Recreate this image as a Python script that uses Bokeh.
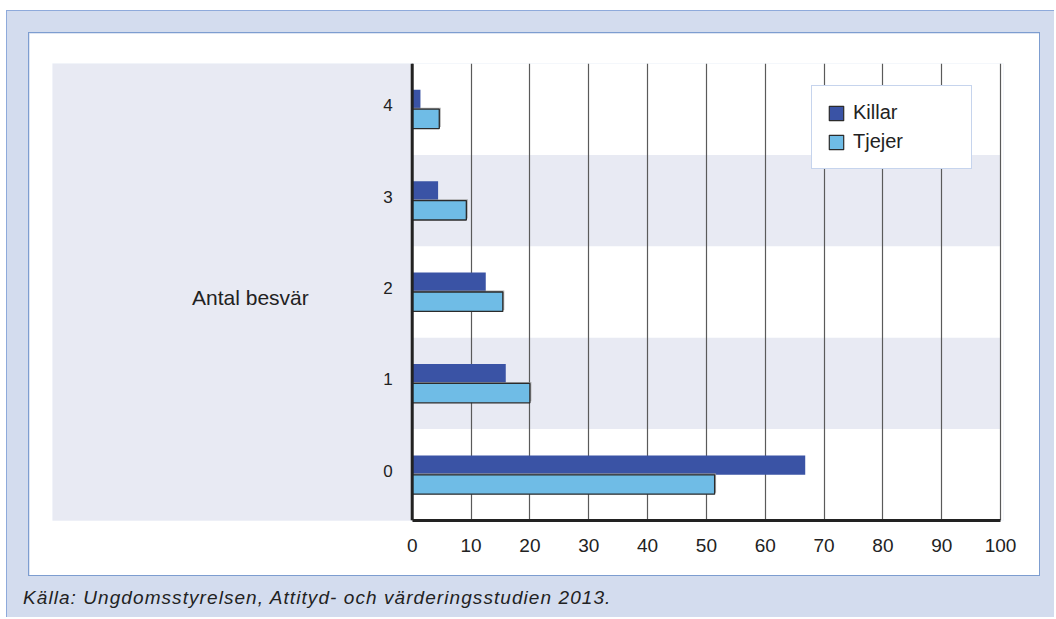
from bokeh.plotting import figure
from bokeh.models import Range1d, FixedTicker, Span, Legend, LegendItem, Div, Label, ColumnDataSource
from bokeh.layouts import column
from bokeh.transform import dodge
from bokeh.core.properties import value
from bokeh.embed import file_html
from bokeh.resources import INLINE

# ---- data ----
categories = [0, 1, 2, 3, 4]
category_labels = ["0", "1", "2", "3", "4"]
killar = [66.8, 15.9, 12.5, 4.4, 1.4]
tjejer = [51.4, 20.0, 15.4, 9.2, 4.6]
x_ticks = [0, 10, 20, 30, 40, 50, 60, 70, 80, 90, 100]
series_names = ["Killar", "Tjejer"]
axis_title = "Antal besvär"
source_note = "Källa: Ungdomsstyrelsen, Attityd- och värderingsstudien 2013."

KILLAR_C = "#3a53a5"
TJEJER_C = "#6fbce6"
BAND_C = "#e8eaf3"
OUTER_C = "#d3dcee"
TEXT_C = "#222222"
FONT = "Liberation Sans"

src = ColumnDataSource(dict(y=categories, lab=category_labels, killar=killar, tjejer=tjejer))

p = figure(width=1010, height=542, output_backend="svg", toolbar_location=None,
           x_range=Range1d(-61.14, 100.5), y_range=Range1d(-0.5, 4.5),
           y_axis_location=None, min_border_left=23, min_border_top=30,
           min_border_right=36, min_border_bottom=55,
           border_fill_color="white", background_fill_color="white",
           margin=(22, 15, 0, 22))
p.outline_line_color = None
p.styles = {"outline": "1px solid #7d9dd0"}

# background bands (behind the grid)
band_src = ColumnDataSource(dict(left=[-61.14, 0, 0], right=[0, 100, 100],
                                 bottom=[-0.52, 0.5, 2.5], top=[4.5, 1.5, 3.5]))
p.quad(left="left", right="right", bottom="bottom", top="top", source=band_src,
       fill_color=BAND_C, line_color=None, level="image")

# grid
p.xgrid.ticker = FixedTicker(ticks=x_ticks)
p.xgrid.grid_line_color = "#5a5a5a"
p.xgrid.grid_line_width = 1.2
p.ygrid.grid_line_color = None

# bars
h = 0.212
rk = p.hbar(y=dodge("y", 0.106), right="killar", left=0, height=h, source=src,
            fill_color=KILLAR_C, line_color=None)
# soft shadow behind Tjejer bars
p.hbar(y=dodge("y", -0.106 + 0.016), right=dodge("tjejer", 0.25), left=0, height=h, source=src,
       fill_color="#9a9a9a", fill_alpha=0.8, line_color=None)
rt = p.hbar(y=dodge("y", -0.106), right="tjejer", left=0, height=h, source=src,
            fill_color=TJEJER_C, line_color="#2b2b2b", line_width=1.3)

# legend-only swatches (outlined, hidden renderers)
lk = p.hbar(y="y", right="killar", height=h, source=src, fill_color=KILLAR_C,
            line_color="#2b2b2b", line_width=1.2, visible=False)
lt = p.hbar(y="y", right="tjejer", height=h, source=src, fill_color=TJEJER_C,
            line_color="#2b2b2b", line_width=1.2, visible=False)

# y axis line
p.add_layout(Span(location=0, dimension="height", line_color="#222222", line_width=3))

# x axis
xa = p.xaxis[0]
xa.ticker = FixedTicker(ticks=x_ticks)
xa.bounds = (0, 100)
xa.axis_line_width = 3
xa.axis_line_color = "#222222"
xa.major_tick_line_color = None
xa.minor_tick_line_color = None
xa.major_label_standoff = 12
xa.major_label_text_font = FONT
xa.major_label_text_font_size = "19px"
xa.major_label_text_color = TEXT_C

# category labels
p.text(x=-3.3, y="y", text="lab", source=src, text_align="right", text_baseline="middle",
       y_offset=-4, text_font=value(FONT), text_font_size="17px", text_color=TEXT_C)

# axis title
p.add_layout(Label(x=-27.5, y=1.94, text=axis_title, text_align="center", text_baseline="middle",
                   text_font=FONT, text_font_size="21px", text_color=TEXT_C))

legend = Legend(items=[LegendItem(label=series_names[0], renderers=[lk]),
                       LegendItem(label=series_names[1], renderers=[lt])],
                location=(759, 351), padding=15, margin=0, spacing=6,
                glyph_width=18, glyph_height=18, label_height=20, label_width=103,
                label_standoff=8, label_text_font=FONT, label_text_font_size="20px",
                label_text_color=TEXT_C, border_line_color="#8eaadb", border_line_width=1,
                background_fill_color="white", background_fill_alpha=1,
                inactive_fill_alpha=0)
p.add_layout(legend)

note = Div(text='<span style="font-family: \'Liberation Sans\'; font-style: italic; '
                'font-size: 19px; letter-spacing: 1.07px; color: #222222; white-space: nowrap;">'
                + source_note + '</span>',
           width=800, height=20, margin=(13, 0, 9, 16),
           styles={"line-height": "20px"})

layout = column(p, note, margin=(10, 0, 0, 6),
                styles={"background-color": OUTER_C,
                        "border-left": "1px solid #8eaadb",
                        "border-top": "1px solid #8eaadb"})

open("out.html", "w").write(file_html(layout, INLINE))
